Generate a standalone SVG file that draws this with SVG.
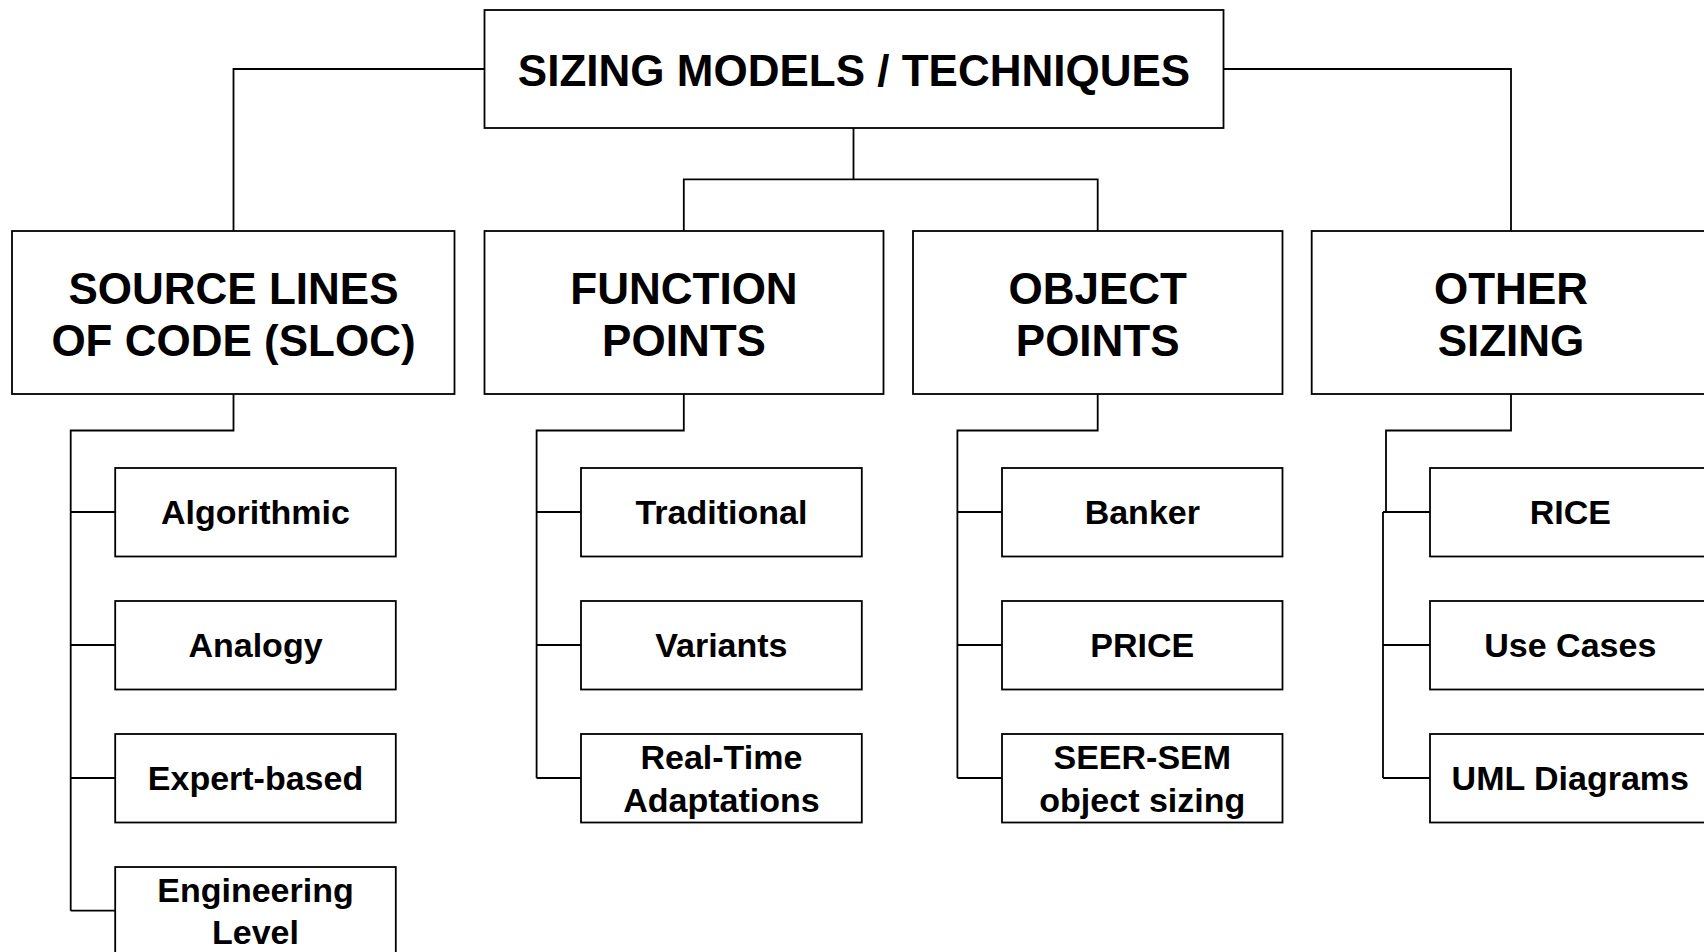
<svg xmlns="http://www.w3.org/2000/svg" width="1704" height="952" viewBox="0 0 1704 952">
<style>
.box{fill:#fff;stroke:#000;stroke-width:1.8}
.ln{fill:none;stroke:#000;stroke-width:1.8}
text{font-family:"Liberation Sans",Arial,sans-serif;font-weight:bold;fill:#000;text-anchor:middle}
.t1{font-size:44px}
.t2{font-size:34px}
</style>
<rect width="1704" height="952" fill="#fff"/>
<g id="connectors">
<path class="ln" d="M484.5 69 H233.5 V231"/>
<path class="ln" d="M1223.5 69 H1511 V231"/>
<path class="ln" d="M853.5 128 V179.3 M683.8 231 V179.3 H1097.7 V231"/>
<path class="ln" d="M233.5 394 V430.5 H70.7 V910.7 M70.7 512 H115.2 M70.7 645 H115.2 M70.7 778 H115.2 M70.7 910.7 H115.2"/>
<path class="ln" d="M683.8 394 V430.5 H536.6 V778 M536.6 512 H581 M536.6 645 H581 M536.6 778 H581"/>
<path class="ln" d="M1097.7 394 V430.5 H957.4 V778 M957.4 512 H1002 M957.4 645 H1002 M957.4 778 H1002"/>
<path class="ln" d="M1511 394 V430.5 H1386 V512 M1383 512 H1430 M1383 512 V778 M1383 645 H1430 M1383 778 H1430"/>
</g>
<g id="root"><rect class="box" x="484.5" y="10" width="739" height="118"/><text class="t1" x="854" y="86">SIZING MODELS / TECHNIQUES</text></g>
<g id="sloc"><rect class="box" x="12" y="231" width="442.5" height="163"/><text class="t1" x="233.5" y="303.5">SOURCE LINES</text><text class="t1" x="233.5" y="356">OF CODE (SLOC)</text></g>
<g id="fp"><rect class="box" x="484.5" y="231" width="399" height="163"/><text class="t1" x="684" y="303.5">FUNCTION</text><text class="t1" x="684" y="356">POINTS</text></g>
<g id="op"><rect class="box" x="913" y="231" width="369.5" height="163"/><text class="t1" x="1097.7" y="303.5">OBJECT</text><text class="t1" x="1097.7" y="356">POINTS</text></g>
<g id="other"><rect class="box" x="1311.7" y="231" width="398.6" height="163"/><text class="t1" x="1511" y="303.5">OTHER</text><text class="t1" x="1511" y="356">SIZING</text></g>
<g id="algorithmic"><rect class="box" x="115.2" y="468" width="280.6" height="88.5"/><text class="t2" x="255.5" y="523.5">Algorithmic</text></g>
<g id="analogy"><rect class="box" x="115.2" y="601" width="280.6" height="88.5"/><text class="t2" x="255.5" y="656.5">Analogy</text></g>
<g id="expert"><rect class="box" x="115.2" y="734" width="280.6" height="88.5"/><text class="t2" x="255.5" y="789.5">Expert-based</text></g>
<g id="engineering"><rect class="box" x="115.2" y="867" width="280.6" height="88.5"/><text class="t2" x="255.5" y="901.7">Engineering</text><text class="t2" x="255.5" y="944">Level</text></g>
<g id="traditional"><rect class="box" x="581" y="468" width="280.8" height="88.5"/><text class="t2" x="721.4" y="523.5">Traditional</text></g>
<g id="variants"><rect class="box" x="581" y="601" width="280.8" height="88.5"/><text class="t2" x="721.4" y="656.5">Variants</text></g>
<g id="realtime"><rect class="box" x="581" y="734" width="280.8" height="88.5"/><text class="t2" x="721.4" y="769.3">Real-Time</text><text class="t2" x="721.4" y="811.6">Adaptations</text></g>
<g id="banker"><rect class="box" x="1002" y="468" width="280.5" height="88.5"/><text class="t2" x="1142.3" y="523.5">Banker</text></g>
<g id="price"><rect class="box" x="1002" y="601" width="280.5" height="88.5"/><text class="t2" x="1142.3" y="656.5">PRICE</text></g>
<g id="seersem"><rect class="box" x="1002" y="734" width="280.5" height="88.5"/><text class="t2" x="1142.3" y="769.3">SEER-SEM</text><text class="t2" x="1142.3" y="811.6">object sizing</text></g>
<g id="rice"><rect class="box" x="1430" y="468" width="280.5" height="88.5"/><text class="t2" x="1570.3" y="523.5">RICE</text></g>
<g id="usecases"><rect class="box" x="1430" y="601" width="280.5" height="88.5"/><text class="t2" x="1570.3" y="656.5">Use Cases</text></g>
<g id="uml"><rect class="box" x="1430" y="734" width="280.5" height="88.5"/><text class="t2" x="1570.3" y="789.5">UML Diagrams</text></g>
</svg>
